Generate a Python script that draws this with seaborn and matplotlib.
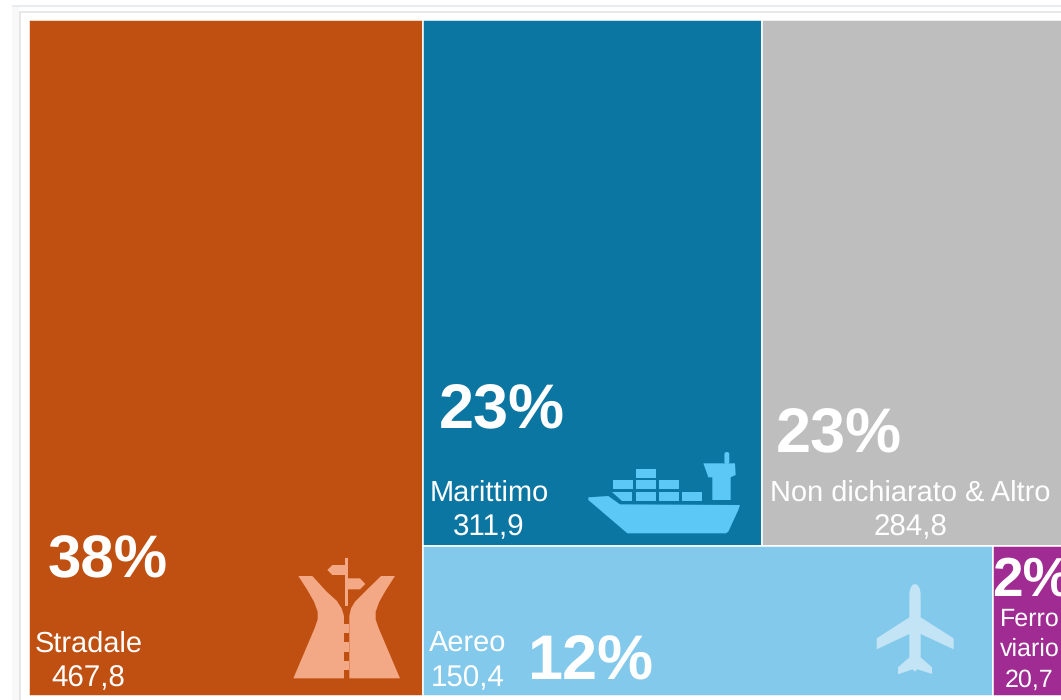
import matplotlib
matplotlib.use("Agg")
import matplotlib.pyplot as plt
from matplotlib.patches import Polygon, Rectangle, FancyBboxPatch
import seaborn as sns

modes = ["Stradale", "Marittimo", "Non dichiarato & Altro", "Aereo", "Ferroviario"]
values = [467.8, 311.9, 284.8, 150.4, 20.7]
value_labels = ["467,8", "311,9", "284,8", "150,4", "20,7"]
share_labels = ["38%", "23%", "23%", "12%", "2%"]
colors = ["#C05011", "#0C76A3", "#BEBEBE", "#82C9EB", "#A02B92"]

sns.set_theme(style="white")
plt.rcParams["font.family"] = ["Liberation Sans", "DejaVu Sans"]
plt.rcParams["text.hinting"] = "no_hinting"

PX = 1061
PY = 700
fig = plt.figure(figsize=(PX / 100, PY / 100), dpi=100, facecolor="white")

# treemap axes: the right edge runs past the image, as in the reference
ax = fig.add_axes([28.6 / PX, 3.7 / PY, 1042.5 / PX, 676 / PY])
total = sum(values)
right_total = sum(values[1:])
top_total = sum(values[1:3])
bottom_total = sum(values[3:])
col_w = values[0] / total
rest_w = 1 - col_w
top_h = top_total / right_total
bot_h = bottom_total / right_total

lefts = [0, col_w, col_w + rest_w * values[1] / top_total,
         col_w, col_w + rest_w * values[3] / bottom_total]
widths = [col_w, rest_w * values[1] / top_total, rest_w * values[2] / top_total,
          rest_w * values[3] / bottom_total, rest_w * values[4] / bottom_total]
bottoms = [0, bot_h, bot_h, 0, 0]
heights = [1, top_h, top_h, bot_h, bot_h]
ax.bar(lefts, heights, width=widths, bottom=bottoms, align="edge",
       color=colors, edgecolor="white", linewidth=1.1)
ax.set_xlim(0, 1)
ax.set_ylim(0, 1)
ax.axis("off")

# overlay in pixel units for frame, icons and text
ov = fig.add_axes([0, 0, 1, 1], facecolor="none")
ov.set_xlim(0, PX)
ov.set_ylim(PY, 0)
ov.axis("off")

# page frame
for rect, col in [((12, 5, 7, 695), "#F8F8F8"), ((12, 5, 1049, 2), "#E8ECF1"),
                  ((19, 11, 1042, 2), "#E8E8E8"), ((19, 11, 2, 689), "#E6E6E6")]:
    ov.add_patch(Rectangle(rect[:2], rect[2], rect[3], facecolor=col, edgecolor="none"))


def zoomed(points, x0, y0, scale=3):
    return [(x0 + x / scale, y0 + y / scale) for x, y in points]


def poly(points, x0, y0, color):
    ov.add_patch(Polygon(zoomed(points, x0, y0), closed=True, facecolor=color,
                         edgecolor="none"))


def box(x1, y1, x2, y2, x0, y0, color):
    poly([(x1, y1), (x2, y1), (x2, y2), (x1, y2)], x0, y0, color)


# road icon
c = "#F3A985"
poly([(85, 108), (127, 108), (170, 155), (200, 182), (215, 205), (222, 228), (222, 415),
      (70, 415), (135, 262), (143, 238), (143, 215), (132, 185), (112, 150)], 270, 540, c)
poly([(375, 108), (333, 108), (290, 150), (255, 185), (243, 205), (238, 228), (238, 415),
      (390, 415), (325, 262), (317, 238), (317, 215), (328, 185), (348, 150)], 270, 540, c)
for a, b in [(253, 280), (307, 335), (362, 390)]:
    box(222, a, 238, b, 270, 540, c)
box(225, 55, 234, 198, 270, 540, c)
poly([(225, 75), (187, 75), (172, 90), (187, 105), (225, 105)], 270, 540, c)
poly([(234, 115), (270, 115), (286, 132), (270, 148), (234, 148)], 270, 540, c)

# ship icon
c = "#5BC8F5"
poly([(55, 172), (115, 168), (150, 193), (510, 195), (505, 210), (475, 275), (468, 280),
      (172, 280), (55, 180)], 570, 440, c)
for r in [(198, 87, 258, 115), (129, 120, 189, 148), (198, 120, 258, 148),
          (267, 120, 327, 148), (198, 156, 258, 184), (267, 156, 327, 184),
          (336, 156, 396, 184)]:
    box(*r, 570, 440, c)
poly([(127, 156), (187, 156), (187, 182), (155, 182)], 570, 440, c)
poly([(400, 70), (495, 70), (497, 105), (482, 112), (482, 180), (427, 180), (427, 112),
      (415, 112)], 570, 440, c)
ov.add_patch(FancyBboxPatch((570 + 465 / 3, 440 + 38 / 3), 11 / 3, 32 / 3,
                            boxstyle="round,pad=0.6,rounding_size=2",
                            facecolor=c, edgecolor="none"))

# plane icon
c = "#C2E4F5"
poly([(165, 132), (173, 135), (179, 145), (182, 160), (182, 232), (281, 295), (281, 328),
      (182, 282), (182, 352), (216, 382), (216, 402), (172, 388), (165, 395), (158, 388),
      (114, 403), (114, 382), (148, 352), (148, 282), (50, 328), (50, 295), (148, 232),
      (148, 160), (151, 145), (157, 135)], 860, 540, c)

# text (px font sizes converted to points)
def pt(px):
    return px * 72 / 100


big = [(108, 577, 60), (501.5, 428, 63), (839, 452, 63), (590, 680, 63)]
for (x, y, s), lab in zip(big, share_labels):
    ov.text(x, y, lab, color="white", fontsize=pt(s), fontweight="bold",
            ha="center", va="baseline")
ov.text(992, 596, share_labels[4], color="white", fontsize=pt(55), fontweight="bold",
        ha="left", va="baseline")

names = [(88.5, 652), (489, 501), (910.5, 501), (468, 652)]
nums = [(88.5, 686), (489, 535), (910, 535), (468, 686)]
for i in range(4):
    ov.text(*names[i], modes[i], color="white", fontsize=pt(29), ha="center", va="baseline")
    ov.text(*nums[i], value_labels[i], color="white", fontsize=pt(29.5), ha="center", va="baseline")

ov.text(1030, 626, modes[4][:5], color="white", fontsize=pt(25), ha="center", va="baseline")
ov.text(1030, 656, modes[4][5:], color="white", fontsize=pt(25), ha="center", va="baseline")
ov.text(1029, 687, value_labels[4], color="white", fontsize=pt(25), ha="center", va="baseline")

fig.savefig("out.png", dpi=100, facecolor="white")
